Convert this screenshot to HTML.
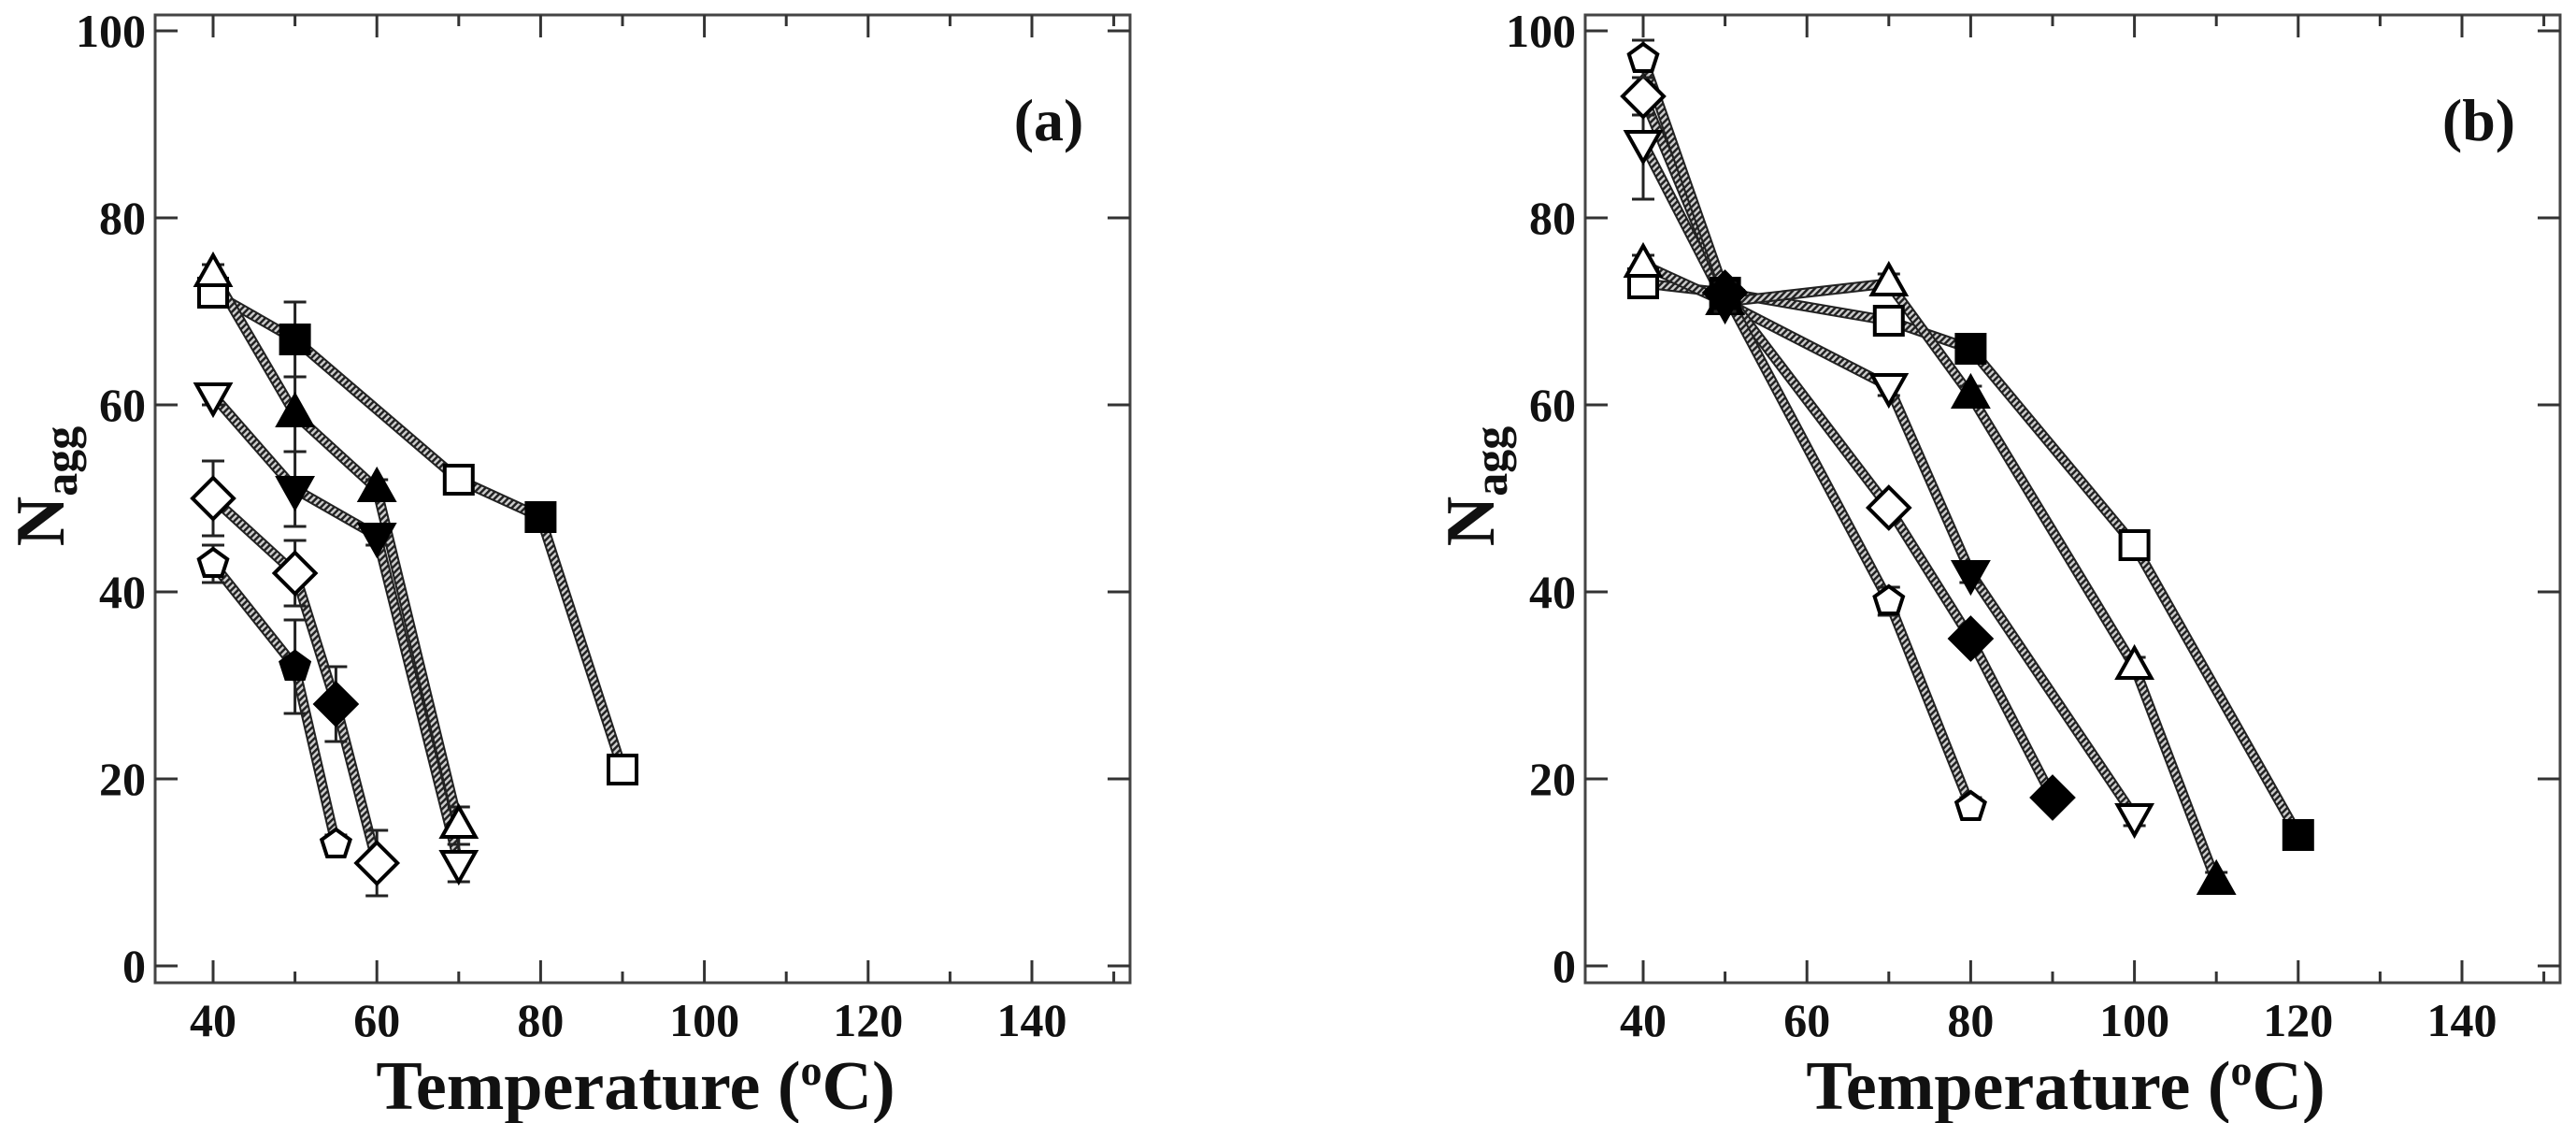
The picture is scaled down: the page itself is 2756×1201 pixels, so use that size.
<!DOCTYPE html>
<html><head><meta charset="utf-8"><style>
html,body{margin:0;padding:0;background:#fff}
svg{display:block}
text{font-family:"Liberation Serif",serif;font-weight:bold;fill:#111}
</style></head><body>
<svg id="chart" width="2756" height="1201" viewBox="0 0 2756 1201" xmlns="http://www.w3.org/2000/svg">
<defs>
<pattern id="hatch" width="5" height="5" patternUnits="userSpaceOnUse" patternTransform="rotate(45)">
<rect width="5" height="5" fill="#ccc"/><rect width="2.5" height="5" fill="#222"/>
</pattern>
</defs>
</svg>
<script>
const xTicks=[40,60,80,100,120,140];
const yTicks=[0,20,40,60,80,100];
// Panel (a)
const aSquareX=[40,50,70,80,90], aSquareY=[72,67,52,48,21], aSquareF=[0,1,0,1,0], aSquareE=[1,4,1,1,1.5];
const aTriX=[40,50,60,70], aTriY=[74,59,51,15], aTriF=[0,1,1,0], aTriE=[1,4,1,2];
const aInvX=[40,50,60,70], aInvY=[61,51,46,11], aInvF=[0,1,1,0], aInvE=[1,4,1,2];
const aDiaX=[40,50,55,60], aDiaY=[50,42,28,11], aDiaF=[0,0,1,0], aDiaE=[4,3.5,4,3.5];
const aPenX=[40,50,55], aPenY=[43,32,13], aPenF=[0,1,0], aPenE=[2,5,1];
// Panel (b)
const bPenX=[40,50,70,80], bPenY=[97,72,39,17], bPenF=[0,1,0,0], bPenE=[2,1,1.5,1];
const bDiaX=[40,50,70,80,90], bDiaY=[93,72,49,35,18], bDiaF=[0,1,0,1,1], bDiaE=[2,1,1,1,1];
const bInvX=[40,50,70,80,100], bInvY=[88,71,62,42,16], bInvF=[0,1,0,1,0], bInvE=[6,1,1,1,1];
const bTriX=[40,50,70,80,100,110], bTriY=[75,71,73,61,32,9], bTriF=[0,1,0,1,0,1], bTriE=[1,1,1,1,1,1];
const bSqX=[40,50,70,80,100,120], bSqY=[73,72,69,66,45,14], bSqF=[0,1,0,1,0,1], bSqE=[1,1,1,1,1,1];

const NS="http://www.w3.org/2000/svg";
const svg=document.getElementById('chart');
function mk(tag,attrs,parent){const e=document.createElementNS(NS,tag);for(const k in attrs)e.setAttribute(k,attrs[k]);(parent||svg).appendChild(e);return e;}

function panel(off,label,series,name){
  const sx=v=>off+228+(v-40)*8.76;
  const sy=v=>1033-v*10;
  const g=mk('g',{});
  
  
  const L=off+166,R=off+1209,T=16,B=1051;
  const fr=mk('rect',{x:L,y:T,width:R-L,height:B-T,fill:'none',stroke:'#444','stroke-width':3},g);
  
  
  for(let v=40;v<=150;v+=10){
    const maj=(v%20===0), len=maj?24:12;
    mk('line',{x1:sx(v),x2:sx(v),y1:B,y2:B-len,stroke:'#333','stroke-width':3},g);
    mk('line',{x1:sx(v),x2:sx(v),y1:T,y2:T+len,stroke:'#333','stroke-width':3},g);
  }
  xTicks.forEach(v=>{const t=mk('text',{x:sx(v),y:1108,'font-size':50,'text-anchor':'middle'},g);t.textContent=v;
    
    });
  yTicks.forEach(v=>{
    mk('line',{x1:L,x2:L+24,y1:sy(v),y2:sy(v),stroke:'#333','stroke-width':3},g);
    mk('line',{x1:R,x2:R-24,y1:sy(v),y2:sy(v),stroke:'#333','stroke-width':3},g);
    const t=mk('text',{x:L-10,y:sy(v)+17,'font-size':50,'text-anchor':'end'},g);t.textContent=v;
    
    
  });
  const xt=mk('text',{x:off+680,y:1186,'font-size':74,'text-anchor':'middle'},g);
  xt.innerHTML='Temperature (<tspan font-size="46" dy="-26">o</tspan><tspan dy="26">C)</tspan>';
  
  
  const yt=mk('text',{transform:`translate(${off+68},520) rotate(-90)`,'font-size':74,'text-anchor':'middle'},g);
  yt.innerHTML='N<tspan font-size="50" dy="14">agg</tspan>';
  
  
  const pl=mk('text',{x:off+1122,y:150,'font-size':64,'text-anchor':'middle'},g);pl.textContent=label;
  
  
  // lines
  series.forEach(s=>{
    const pts=s.x.map((v,i)=>sx(v)+','+sy(s.y[i])).join(' ');
    mk('polyline',{points:pts,fill:'none',stroke:'#222','stroke-width':11,'stroke-linejoin':'round'},g);
    const p=mk('polyline',{points:pts,fill:'none',stroke:'url(#hatch)','stroke-width':7,'stroke-linejoin':'round'},g);
    
    
  });
  // error bars + markers
  series.forEach(s=>{
    s.x.forEach((v,i)=>{
      const cx=sx(v),cy=sy(s.y[i]),e=s.e[i]*10;
      mk('line',{x1:cx,x2:cx,y1:cy-e,y2:cy+e,stroke:'#222','stroke-width':3},g);
      mk('line',{x1:cx-12,x2:cx+12,y1:cy-e,y2:cy-e,stroke:'#222','stroke-width':3},g);
      mk('line',{x1:cx-12,x2:cx+12,y1:cy+e,y2:cy+e,stroke:'#222','stroke-width':3},g);
      const fill=s.f[i]?'#000':'#fff';
      let m;const a={fill:fill,stroke:'#000','stroke-width':4};
      if(s.shape==='square'){m=mk('rect',Object.assign({x:cx-15,y:cy-15,width:30,height:30},a),g);}
      else if(s.shape==='triangle'){m=mk('polygon',Object.assign({points:`${cx},${cy-20} ${cx+18},${cy+12} ${cx-18},${cy+12}`},a),g);}
      else if(s.shape==='inv-triangle'){m=mk('polygon',Object.assign({points:`${cx},${cy+20} ${cx+18},${cy-12} ${cx-18},${cy-12}`},a),g);}
      else if(s.shape==='diamond'){m=mk('polygon',Object.assign({points:`${cx},${cy-22} ${cx+22},${cy} ${cx},${cy+22} ${cx-22},${cy}`},a),g);}
      else {const r=16;const pts=[0,1,2,3,4].map(k=>{const ang=-Math.PI/2+k*2*Math.PI/5;return (cx+r*Math.cos(ang))+','+(cy+r*Math.sin(ang));}).join(' ');m=mk('polygon',Object.assign({points:pts},a),g);}
      
      
    });
  });
}
panel(0,'(a)',[
  {shape:'square',x:aSquareX,y:aSquareY,f:aSquareF,e:aSquareE},
  {shape:'triangle',x:aTriX,y:aTriY,f:aTriF,e:aTriE},
  {shape:'inv-triangle',x:aInvX,y:aInvY,f:aInvF,e:aInvE},
  {shape:'diamond',x:aDiaX,y:aDiaY,f:aDiaF,e:aDiaE},
  {shape:'pentagon',x:aPenX,y:aPenY,f:aPenF,e:aPenE}],'panel-a');
panel(1530,'(b)',[
  {shape:'square',x:bSqX,y:bSqY,f:bSqF,e:bSqE},
  {shape:'triangle',x:bTriX,y:bTriY,f:bTriF,e:bTriE},
  {shape:'inv-triangle',x:bInvX,y:bInvY,f:bInvF,e:bInvE},
  {shape:'diamond',x:bDiaX,y:bDiaY,f:bDiaF,e:bDiaE},
  {shape:'pentagon',x:bPenX,y:bPenY,f:bPenF,e:bPenE}],'panel-b');
</script>
</body></html>
